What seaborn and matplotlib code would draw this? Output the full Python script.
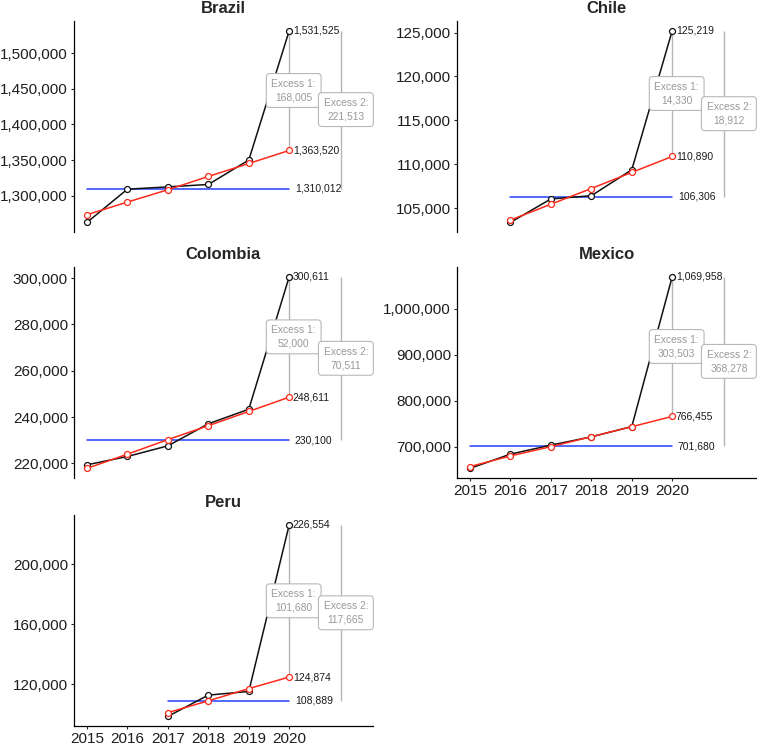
import matplotlib

matplotlib.use("Agg")
import matplotlib.pyplot as plt
import pandas as pd
import seaborn as sns

# observed deaths (black), expected trend (red), 2015-19 mean (blue)
brazil_years = [2015, 2016, 2017, 2018, 2019, 2020]
brazil_observed = [1262600, 1309200, 1312400, 1315800, 1350060, 1531525]
brazil_expected = [1273400, 1291100, 1308400, 1327000, 1345200, 1363520]
brazil_baseline = 1310012
brazil_excess = [168005, 221513]
brazil_ticks = [1300000, 1350000, 1400000, 1450000, 1500000]

chile_years = [2016, 2017, 2018, 2019, 2020]
chile_observed = [103380, 106050, 106420, 109374, 125219]
chile_expected = [103650, 105450, 107240, 109075, 110890]
chile_baseline = 106306
chile_excess = [14330, 18912]
chile_ticks = [105000, 110000, 115000, 120000, 125000]

colombia_years = [2015, 2016, 2017, 2018, 2019, 2020]
colombia_observed = [219400, 223000, 227600, 237100, 243400, 300611]
colombia_expected = [217860, 224000, 230290, 236290, 242430, 248611]
colombia_baseline = 230100
colombia_excess = [52000, 70511]
colombia_ticks = [220000, 240000, 260000, 280000, 300000]

mexico_years = [2015, 2016, 2017, 2018, 2019, 2020]
mexico_observed = [653500, 684500, 704000, 722000, 744400, 1069958]
mexico_expected = [657450, 680530, 700720, 722360, 744000, 766455]
mexico_baseline = 701680
mexico_excess = [303503, 368278]
mexico_ticks = [700000, 800000, 900000, 1000000]

peru_years = [2017, 2018, 2019, 2020]
peru_observed = [98600, 112800, 115267, 226554]
peru_expected = [101100, 109010, 117140, 124874]
peru_baseline = 108889
peru_excess = [101680, 117665]
peru_ticks = [120000, 160000, 200000]

x_ticks = [2015, 2016, 2017, 2018, 2019, 2020]

sns.set_style("ticks")
plt.rcParams["font.family"] = ["Liberation Sans", "DejaVu Sans"]

BLACK = "#111111"
RED = "#ff2a1a"
BLUE = "#2040ff"
GREY = "#b5b5b5"

fig = plt.figure(figsize=(7.57, 7.46), dpi=100)

W, H = 757, 746
col_left = [74, 457]
row_top = [21, 267, 515]
ax_w, ax_h = 299, 211

panels = [
    ("Brazil", 0, 0, False, brazil_years, brazil_observed, brazil_expected,
     brazil_baseline, brazil_excess, brazil_ticks),
    ("Chile", 0, 1, False, chile_years, chile_observed, chile_expected,
     chile_baseline, chile_excess, chile_ticks),
    ("Colombia", 1, 0, False, colombia_years, colombia_observed, colombia_expected,
     colombia_baseline, colombia_excess, colombia_ticks),
    ("Mexico", 1, 1, True, mexico_years, mexico_observed, mexico_expected,
     mexico_baseline, mexico_excess, mexico_ticks),
    ("Peru", 2, 0, True, peru_years, peru_observed, peru_expected,
     peru_baseline, peru_excess, peru_ticks),
]

for name, row, col, show_x, years, obs, exp, base, excess, yticks in panels:
    ax = fig.add_axes([col_left[col] / W, 1 - (row_top[row] + ax_h) / H,
                       ax_w / W, ax_h / H])
    last = years[-1]
    x2 = 2021.29

    df = pd.DataFrame({"year": years, "observed": obs, "expected": exp})
    base_df = pd.DataFrame({"year": [years[0], last], "value": [base, base]})

    # baseline and excess bars
    sns.lineplot(data=base_df, x="year", y="value", color=BLUE, lw=1.1, ax=ax)
    ax.vlines(last, exp[-1], obs[-1], color=GREY, lw=1.0, zorder=1)
    ax.vlines(x2, base, obs[-1], color=GREY, lw=1.0, zorder=1)

    sns.lineplot(data=df, x="year", y="observed", color=BLACK, lw=1.1,
                 marker="o", markersize=4.3, markerfacecolor="white",
                 markeredgecolor=BLACK, markeredgewidth=0.9, ax=ax, zorder=3)
    sns.lineplot(data=df, x="year", y="expected", color=RED, lw=1.1,
                 marker="o", markersize=4.3, markerfacecolor="white",
                 markeredgecolor=RED, markeredgewidth=0.9, ax=ax, zorder=4)

    lab = dict(fontsize=7.5, color="#1a1a1a", va="center", ha="left",
               textcoords="offset points", zorder=6)
    ax.annotate(f"{obs[-1]:,}", xy=(last, obs[-1]), xytext=(2.5, 0), **lab)
    ax.annotate(f"{exp[-1]:,}", xy=(last, exp[-1]), xytext=(2.5, 0), **lab)
    ax.annotate(f"{base:,}", xy=(last, base), xytext=(4, 0), **lab)

    box = dict(boxstyle="round,pad=0.5,rounding_size=0.35", fc="white",
               ec="#b8b8b8", lw=0.8)
    ax.text(last + 0.11, (exp[-1] + obs[-1]) / 2, f"Excess 1:\n{excess[0]:,}",
            ha="center", va="center", fontsize=7.4, color="#999999",
            linespacing=1.45, bbox=box, zorder=7)
    ax.text(x2 + 0.11, (base + obs[-1]) / 2, f"Excess 2:\n{excess[1]:,}",
            ha="center", va="center", fontsize=7.4, color="#999999",
            linespacing=1.45, bbox=box, zorder=7)

    ax.set_xlim(2014.68, 2022.07)
    ax.margins(y=0.05)
    ax.set_yticks(yticks)
    ax.set_yticklabels([f"{t:,}" for t in yticks])
    ax.set_title(name, fontsize=12, fontweight="bold", pad=6)
    ax.set_xlabel("")
    ax.set_ylabel("")
    sns.despine(ax=ax, bottom=not show_x)
    for s in ax.spines.values():
        s.set_linewidth(0.9)
        s.set_color("black")
    ax.tick_params(axis="y", length=2.5, width=0.8, pad=1.8, labelsize=11,
                   labelcolor="#1e1e1e")
    if show_x:
        ax.set_xticks(x_ticks)
        ax.set_xticklabels([str(x) for x in x_ticks])
        ax.tick_params(axis="x", length=2.5, width=0.8, pad=1.5, labelsize=11,
                       labelcolor="#1e1e1e")
    else:
        ax.set_xticks([])

fig.savefig("out.png", dpi=100)
